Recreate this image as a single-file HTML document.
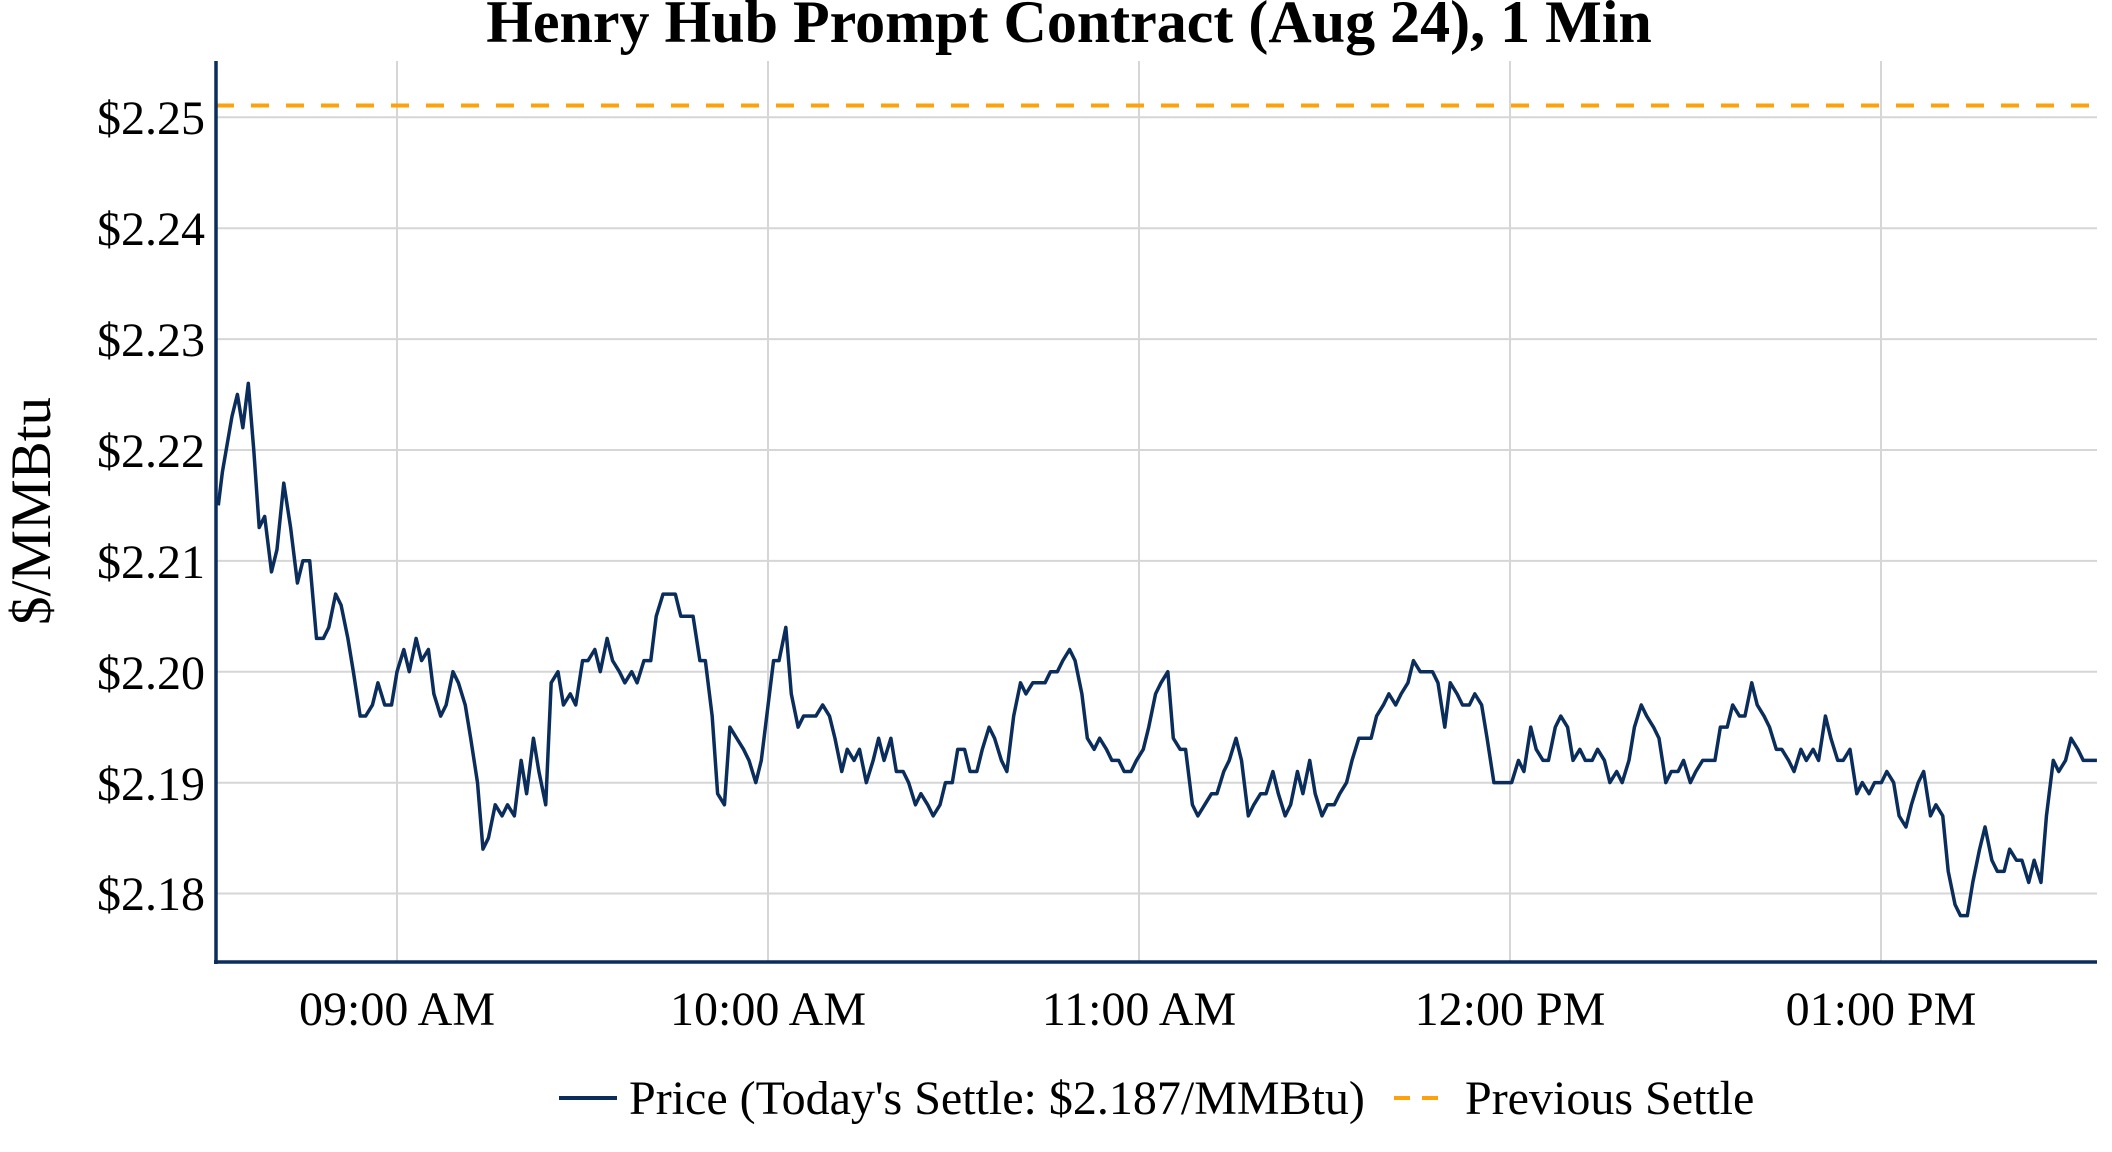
<!DOCTYPE html>
<html><head><meta charset="utf-8"><style>
body{margin:0;background:#fff;}
svg{display:block;font-family:"Liberation Serif",serif;}
</style></head><body>
<svg width="2112" height="1152" viewBox="0 0 2112 1152" xmlns="http://www.w3.org/2000/svg">
<rect width="2112" height="1152" fill="#fff"/>
<g stroke="#d6d6d6" stroke-width="2">
<line x1="216" x2="2097" y1="117.3" y2="117.3"/>
<line x1="216" x2="2097" y1="228.2" y2="228.2"/>
<line x1="216" x2="2097" y1="339.1" y2="339.1"/>
<line x1="216" x2="2097" y1="450" y2="450"/>
<line x1="216" x2="2097" y1="560.9" y2="560.9"/>
<line x1="216" x2="2097" y1="671.8" y2="671.8"/>
<line x1="216" x2="2097" y1="782.7" y2="782.7"/>
<line x1="216" x2="2097" y1="893.5" y2="893.5"/>
<line x1="397" x2="397" y1="61" y2="962"/>
<line x1="768" x2="768" y1="61" y2="962"/>
<line x1="1139" x2="1139" y1="61" y2="962"/>
<line x1="1510" x2="1510" y1="61" y2="962"/>
<line x1="1881" x2="1881" y1="61" y2="962"/>
</g>
<line x1="216" x2="2097" y1="105.5" y2="105.5" stroke="#ffa10a" stroke-width="4" stroke-dasharray="18,17"/>
<g transform="matrix(1.3643 0 0 -11.09 0 893.5)">
<polyline fill="none" stroke="#0b2d5b" stroke-width="3.5" vector-effect="non-scaling-stroke" stroke-linejoin="round" points="160,35 163,38 170,43 174,45 178,42 182,46 186,40 190,33 194,34 199,29 203,31 208,37 213,33 218,28 222,30 227,30 232,23 237,23 241,24 246,27 250,26 255,23 259,20 264,16 268,16 273,17 277,19 282,17 287,17 291,20 296,22 300,20 305,23 309,21 314,22 318,18 323,16 327,17 332,20 336,19 341,17 345,14 350,10 354,4 358,5 363,8 368,7 372,8 377,7 382,12 386,9 391,14 395,11 400,8 404,19 409,20 413,17 418,18 422,17 427,21 431,21 436,22 440,20 445,23 449,21 454,20 458,19 463,20 467,19 472,21 477,21 481,25 486,27 490,27 495,27 499,25 504,25 508,25 513,21 517,21 522,16 526,9 531,8 535,15 540,14 545,13 549,12 554,10 558,12 563,17 567,21 571,21 576,24 580,18 585,15 589,16 594,16 598,16 603,17 608,16 612,14 617,11 621,13 626,12 630,13 635,10 640,12 644,14 648,12 653,14 657,11 662,11 666,10 671,8 675,9 680,8 684,7 689,8 693,10 698,10 702,13 707,13 711,11 716,11 720,13 725,15 729,14 734,12 738,11 743,16 748,19 752,18 757,19 761,19 766,19 770,20 775,20 779,21 784,22 788,21 793,18 797,14 802,13 806,14 811,13 815,12 820,12 824,11 829,11 833,12 838,13 842,15 847,18 851,19 856,20 860,14 865,13 869,13 874,8 878,7 883,8 888,9 892,9 897,11 901,12 906,14 910,12 915,7 919,8 924,9 928,9 933,11 937,9 942,7 946,8 951,11 955,9 960,12 964,9 969,7 973,8 978,8 982,9 987,10 991,12 996,14 1000,14 1005,14 1009,16 1014,17 1018,18 1023,17 1027,18 1032,19 1036,21 1041,20 1045,20 1050,20 1054,19 1059,15 1063,19 1068,18 1072,17 1077,17 1081,18 1086,17 1090,14 1095,10 1099,10 1104,10 1108,10 1113,12 1117,11 1122,15 1126,13 1131,12 1135,12 1140,15 1144,16 1149,15 1153,12 1158,13 1162,12 1167,12 1171,13 1176,12 1180,10 1185,11 1189,10 1194,12 1198,15 1203,17 1207,16 1212,15 1216,14 1221,10 1225,11 1230,11 1234,12 1239,10 1243,11 1248,12 1252,12 1257,12 1261,15 1266,15 1270,17 1275,16 1279,16 1284,19 1288,17 1293,16 1297,15 1302,13 1306,13 1311,12 1315,11 1320,13 1324,12 1329,13 1333,12 1338,16 1342,14 1347,12 1351,12 1356,13 1361,9 1365,10 1370,9 1374,10 1379,10 1383,11 1388,10 1392,7 1397,6 1401,8 1406,10 1410,11 1415,7 1419,8 1424,7 1428,2 1433,-1 1437,-2 1442,-2 1446,1 1451,4 1455,6 1460,3 1464,2 1469,2 1473,4 1478,3 1482,3 1487,1 1491,3 1496,1 1500,7 1505,12 1509,11 1514,12 1518,14 1523,13 1527,12 1532,12 1537,12"/>
</g>
<line x1="216" x2="216" y1="61" y2="964" stroke="#0b2d5b" stroke-width="3.5"/>
<line x1="214" x2="2097" y1="962" y2="962" stroke="#0b2d5b" stroke-width="3.5"/>
<g font-size="48" fill="#000" text-anchor="end">
<text x="205" y="134">$2.25</text>
<text x="205" y="245">$2.24</text>
<text x="205" y="356">$2.23</text>
<text x="205" y="467">$2.22</text>
<text x="205" y="578">$2.21</text>
<text x="205" y="689">$2.20</text>
<text x="205" y="800">$2.19</text>
<text x="205" y="910">$2.18</text>
</g>
<g font-size="48" fill="#000" text-anchor="middle">
<text x="397" y="1025">09:00 AM</text>
<text x="768" y="1025">10:00 AM</text>
<text x="1139" y="1025">11:00 AM</text>
<text x="1510" y="1025">12:00 PM</text>
<text x="1881" y="1025">01:00 PM</text>
</g>
<text x="1069" y="42" font-size="60" font-weight="bold" text-anchor="middle">Henry Hub Prompt Contract (Aug 24), 1 Min</text>
<text transform="translate(50,511) rotate(-90)" font-size="57" text-anchor="middle">$/MMBtu</text>
<line x1="559" x2="617" y1="1098" y2="1098" stroke="#0b2d5b" stroke-width="4"/>
<text x="629" y="1114" font-size="48">Price (Today's Settle: $2.187/MMBtu)</text>
<line x1="1394" x2="1449" y1="1098" y2="1098" stroke="#ffa10a" stroke-width="4" stroke-dasharray="16,12"/>
<text x="1465" y="1114" font-size="48">Previous Settle</text>
</svg>
</body></html>
